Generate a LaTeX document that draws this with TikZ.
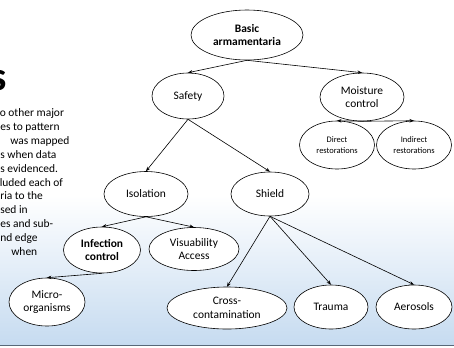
\documentclass[tikz,border=0pt]{standalone}
\usepackage{fontspec}
\setmainfont{Carlito}
\usetikzlibrary{arrows.meta}
\usetikzlibrary{shapes.geometric}
\definecolor{slideblue}{RGB}{186,210,236}
\definecolor{slidebluelow}{RGB}{198,219,240}
\definecolor{slideline}{RGB}{88,104,120}

\begin{document}
\begin{tikzpicture}[x=1bp,y=-1bp,->,>={Stealth[length=4.5bp,width=3.5bp]},line width=0.6bp,
	bubble/.style={draw,ellipse,fill=white,inner sep=0pt,align=center,font=\fontsize{11.5}{13.5}\selectfont},
	smalltext/.style={font=\fontsize{8.5}{11}\selectfont},
	boldtext/.style={font=\fontsize{11.5}{14}\selectfont\bfseries}]
	\useasboundingbox (0,0) rectangle (454,347);
	\clip (0,0) rectangle (454,347);
	% slide background
	\shade[top color=white,middle color=slideblue,bottom color=slidebluelow] (0,195) rectangle (454,345);
	\draw[-,slideline,line width=1.5bp] (0,345.5) -- (454,345.5);
	\node[anchor=base east,inner sep=0pt,font=\fontsize{41}{41}\selectfont\bfseries] (title) at (7.5,90) {s};
	\foreach \xs/\txt [count=\k from 0] in {-0.5/o other major,0/es to pattern,10/was mapped,0/s when data,0/s evidenced.,-0.5/luded each of,0/ria to the,0/sed in,0/es and sub-,0/nd edge,11/when}
		\node[anchor=base west,inner sep=0pt,font=\fontsize{11.5}{14}\selectfont] (note\k) at (\xs,116.5+13.9*\k) {\txt};
	% tree
	\node[bubble,boldtext,minimum width=112bp,minimum height=50bp] (basic) at (247,35) {Basic\\armamentaria};
	\node[bubble,minimum width=72bp,minimum height=46bp] (safety) at (188,96) {Safety};
	\node[bubble,minimum width=84bp,minimum height=48bp] (moisture) at (362,97) {Moisture\\control};
	\node[bubble,smalltext,minimum width=75bp,minimum height=48bp] (direct) at (337,145) {Direct\\restorations};
	\node[bubble,smalltext,minimum width=75bp,minimum height=48bp] (indirect) at (414,145) {Indirect\\restorations};
	\node[bubble,minimum width=84bp,minimum height=45bp] (isolation) at (146,194) {Isolation};
	\node[bubble,minimum width=78bp,minimum height=44bp] (shield) at (270,194) {Shield};
	\node[bubble,boldtext,minimum width=77bp,minimum height=46bp] (infection) at (102,250) {Infection\\control};
	\node[bubble,minimum width=90bp,minimum height=43bp] (access) at (194,249) {Visuability\\Access};
	\node[bubble,minimum width=76bp,minimum height=48bp] (micro) at (47,302) {Micro-\\organisms};
	\node[bubble,minimum width=120bp,minimum height=42bp] (cross) at (227,308) {Cross-\\contamination};
	\node[bubble,minimum width=74bp,minimum height=44bp] (trauma) at (331,307) {Trauma};
	\node[bubble,minimum width=76bp,minimum height=44bp] (aerosols) at (414,307) {Aerosols};
	\draw (basic.south) -- (safety.north);
	\draw (basic.south) -- (moisture.north);
	\draw (moisture.south) -- (direct.north);
	\draw (moisture.south) -- (indirect.north);
	\draw (safety.south) -- (isolation.north);
	\draw (safety.south) -- (shield.north);
	\draw (isolation.south) -- (infection.north);
	\draw (isolation.south) -- (access.north);
	\draw (infection.south) -- (micro.north);
	\draw (shield.south) -- (cross.north);
	\draw (shield.south) -- (trauma.north);
	\draw (shield.south) -- (aerosols.north);
\end{tikzpicture}
\end{document}
